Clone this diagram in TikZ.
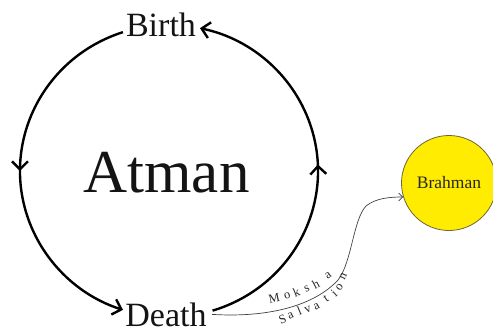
\documentclass[tikz,border=0pt]{standalone}
\usepackage{fontspec}
\setmainfont{Liberation Serif}
\usetikzlibrary{arrows.meta,decorations.markings,calc}
\tikzset{
  bigtip/.tip={Straight Barb[length=8pt,width=16pt]},
  smalltip/.tip={Straight Barb[length=4pt,width=8pt]},
  main/.style={line width=2.4pt, draw=black},
  midarrow/.style={postaction={decorate},
    decoration={markings, mark=at position 0.5 with {\arrow{bigtip}}}},
  lbl/.style={inner ysep=0pt, inner xsep=3pt, anchor=base, text=black!92},
  letter/.style={inner sep=0pt, anchor=base, text=black!85,
    font=\fontsize{12.5}{13}\selectfont},
}
\begin{document}
\begin{tikzpicture}[x=1pt,y=-1pt]
\useasboundingbox (0,0) rectangle (493,330);
\coordinate (c) at (169,171);
\coordinate (bl) at ($(c)+(-108:149 and 146)$);
\coordinate (dr) at ($(c)+(73:149 and 146)$);

\node[lbl, font=\fontsize{34}{40}\selectfont] (birth) at (161,36) {Birth};
\node[lbl, font=\fontsize{61}{70}\selectfont] (atman) at (166.5,192) {Atman};
\node[lbl, font=\fontsize{34}{40}\selectfont, inner xsep=5pt] (death) at (166,326) {Death};
\node[circle, minimum size=95pt, inner sep=0pt, fill={rgb,255:red,255;green,236;blue,0},
      draw={rgb,255:red,110;green,100;blue,60}, line width=0.8pt,
      text=black!85, font=\fontsize{17.5}{20}\selectfont] (brahman) at (449,183) {Brahman};

% cycle arcs
\draw[main, midarrow, -{bigtip}] (bl) arc[start angle=-108, end angle=-252, x radius=149, y radius=146];
\draw[main, midarrow, -{bigtip}] (dr) arc[start angle=73, end angle=-78, x radius=149, y radius=146];

% moksha connector
\draw[line width=0.7pt, draw=black!75, -{smalltip}] (death.east)
  .. controls (270,318) and (315,305) .. (338,280)
  .. controls (352,262) and (353,220) .. (366,206)
  .. controls (376,198) and (390,197) .. (brahman.197);

% letters along the connector
\foreach \ch/\x/\y/\r [count=\i] in
  {M/275/302/12, o/288/299/17, k/298/296/22, s/308/292/24, h/318/288/28, a/330/278/35}
  \node[letter, rotate=\r] (mk\i) at (\x,\y) {\ch};
\foreach \ch/\x/\y/\r [count=\i] in
  {S/284/323/22, a/292/318/24, l/301/315/22, v/309/312/22, a/318/309/28,
   t/328/301/35, i/337/296/42, o/342/289/55, n/346/278/65}
  \node[letter, rotate=\r] (sv\i) at (\x,\y) {\ch};
\end{tikzpicture}
\end{document}
